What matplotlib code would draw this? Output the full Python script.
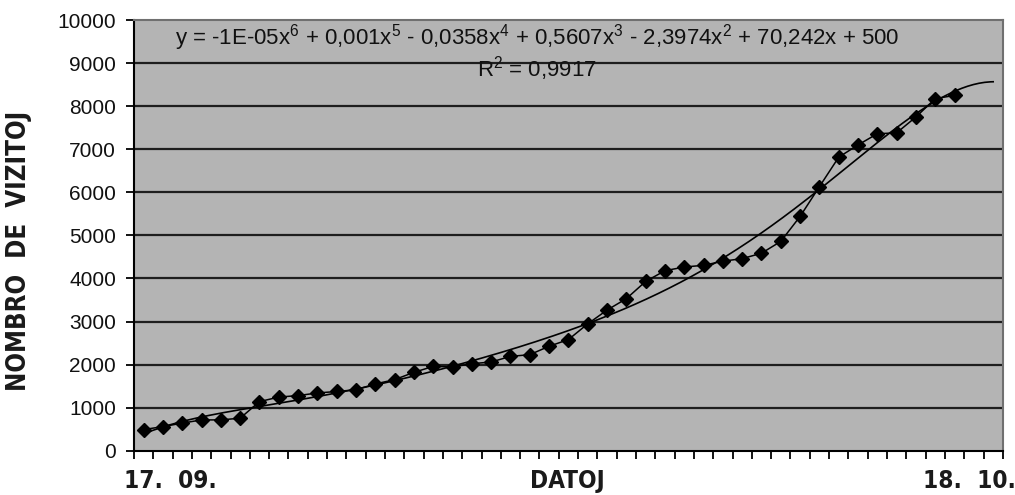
import numpy as np
import matplotlib
matplotlib.use('Agg')
import matplotlib.pyplot as plt

# broj posjetitelja po danu (17.09. - 18.10.)
visitors = [490, 560, 640, 715, 715, 755, 1140, 1245, 1280, 1340,
            1375, 1415, 1550, 1650, 1820, 1958, 1944, 2020, 2060, 2190,
            2230, 2425, 2580, 2945, 3265, 3530, 3930, 4180, 4265, 4305,
            4400, 4460, 4585, 4860, 5440, 6130, 6815, 7100, 7360, 7380,
            7750, 8175, 8250]
n_cat = 45          # kategorije na osi x
forecast = 2        # trend naprijed
yticks = list(range(0, 10001, 1000))
equation = ("y = -1E-05x$^{6}$ + 0,001x$^{5}$ - 0,0358x$^{4}$ + 0,5607x$^{3}$"
            " - 2,3974x$^{2}$ + 70,242x + 500")
r2_text = "R$^{2}$ = 0,9917"

x = np.arange(1, len(visitors) + 1)
coef = np.polyfit(x, visitors, 6)
xt = np.linspace(1, len(visitors) + forecast, 300)
yt = np.polyval(coef, xt)

plt.rcParams['font.family'] = ['Liberation Sans', 'DejaVu Sans']
plt.rcParams['mathtext.fontset'] = 'custom'
plt.rcParams['mathtext.rm'] = 'Liberation Sans'

fig = plt.figure(figsize=(10.15, 4.95), dpi=100)
ax = fig.add_axes([0.132, 0.0895, 0.856, 0.870])
ax.set_facecolor('#b4b4b4')

for v in yticks[1:-1]:
    ax.axhline(v, color='#1e1e1e', lw=1.6, zorder=1)

ax.plot(xt, yt, color='black', lw=1.2, zorder=2)
ax.plot(x, visitors, color='black', lw=1.1, marker='D', markersize=7.5, zorder=3)

ax.set_xlim(0.5, n_cat + 0.5)
ax.set_ylim(0, 10000)
ax.set_yticks(yticks)
ax.set_yticklabels([str(v) for v in yticks], fontsize=15, color='#111111')
ax.set_xticks(np.arange(0.5, n_cat + 1, 1))
ax.set_xticklabels([])
ax.tick_params(axis='x', direction='out', length=6, width=1.3, color='black')
ax.tick_params(axis='y', direction='out', length=6, width=1.3, color='black', pad=7)

for s in ['top', 'right']:
    ax.spines[s].set_color('#707070')
    ax.spines[s].set_linewidth(1.5)
for s in ['left', 'bottom']:
    ax.spines[s].set_color('black')
    ax.spines[s].set_linewidth(1.5)

ax.text(0.464, 0.96, equation, transform=ax.transAxes, ha='center', va='center',
        fontsize=16, color='#111111')
ax.text(0.464, 0.888, r2_text, transform=ax.transAxes, ha='center', va='center',
        fontsize=16, color='#111111')

bold = dict(family='DejaVu Sans', fontstretch='condensed', fontweight='bold',
            color='#1a1a1a')
fig.text(170 / 1015, 1 - 481 / 495, "17.  09.", ha='center', va='center',
         fontsize=17.5, **bold)
fig.text(567 / 1015, 1 - 481 / 495, "DATOJ", ha='center', va='center',
         fontsize=17.5, **bold)
fig.text(969 / 1015, 1 - 481 / 495, "18.  10.", ha='center', va='center',
         fontsize=17.5, **bold)
fig.text(19 / 1015, 1 - 251 / 495, "NOMBRO  DE  VIZITOJ", ha='center', va='center',
         rotation=90, fontsize=18.5, **bold)

fig.savefig('out.png', dpi=100)
